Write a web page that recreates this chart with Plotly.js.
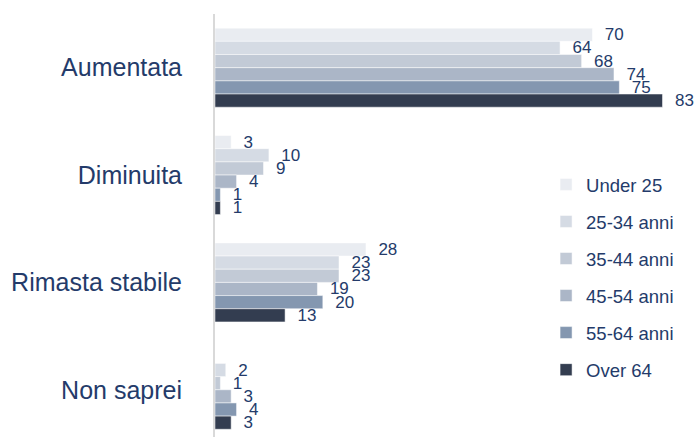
<!DOCTYPE html>
<html>
<head>
<meta charset="utf-8">
<script src="https://cdn.plot.ly/plotly-3.0.1.min.js"></script>
<style>html,body{margin:0;padding:0;background:#fff;}#chart{width:696px;height:437px;}</style>
</head>
<body>
<div id="chart"></div>
<script>
var categories = ["Aumentata", "Diminuita", "Rimasta stabile", "Non saprei"];
var seriesNames = ["Under 25", "25-34 anni", "35-44 anni", "45-54 anni", "55-64 anni", "Over 64"];
var under25 = [70, 3, 28, 0];
var anni25_34 = [64, 10, 23, 2];
var anni35_44 = [68, 9, 23, 1];
var anni45_54 = [74, 4, 19, 3];
var anni55_64 = [75, 1, 20, 4];
var over64 = [83, 1, 13, 3];
var seriesValues = [under25, anni25_34, anni35_44, anni45_54, anni55_64, over64];
var colors = ["#e9ecf1", "#d5dbe4", "#c2cad6", "#abb6c7", "#8497b0", "#333d50"];
var textColor = "#243b6a";

var traces = seriesValues.map(function (vals, i) {
  return {
    type: "bar",
    orientation: "h",
    name: seriesNames[i],
    y: categories,
    x: vals,
    text: vals.map(function (v) { return v === 0 ? "" : "\u00a0\u00a0" + String(v); }),
    textposition: "outside",
    constraintext: "none",
    cliponaxis: false,
    textfont: {family: "Liberation Sans, Arial, sans-serif", size: 17, color: textColor},
    marker: {color: colors[i], line: {color: "#ffffff", width: 0.5}},
    legendgroup: "g" + i,
    hoverinfo: "x+name"
  };
});

var layout = {
  width: 696,
  height: 437,
  margin: {l: 215, r: 6, t: 14, b: 0},
  paper_bgcolor: "#ffffff",
  plot_bgcolor: "#ffffff",
  barmode: "group",
  bargap: 0.264,
  bargroupgap: 0,
  font: {family: "Liberation Sans, Arial, sans-serif", color: textColor},
  xaxis: {range: [0, 88.1], showgrid: false, zeroline: false, showticklabels: false, showline: false, ticks: ""},
  yaxis: {
    type: "category",
    range: [3.44, -0.5],
    showgrid: false,
    zeroline: false,
    showline: true,
    linecolor: "#d9d9d9",
    linewidth: 2,
    ticks: "",
    ticklabelstandoff: 26,
    tickfont: {size: 25, color: textColor}
  },
  showlegend: true,
  legend: {
    x: 0.697, xanchor: "left",
    y: 0.641, yanchor: "top",
    traceorder: "grouped",
    tracegroupgap: 10,
    font: {size: 18.5, color: textColor},
    bgcolor: "rgba(0,0,0,0)"
  }
};

Plotly.newPlot("chart", traces, layout, {displayModeBar: false, staticPlot: true});
</script>
</body>
</html>
